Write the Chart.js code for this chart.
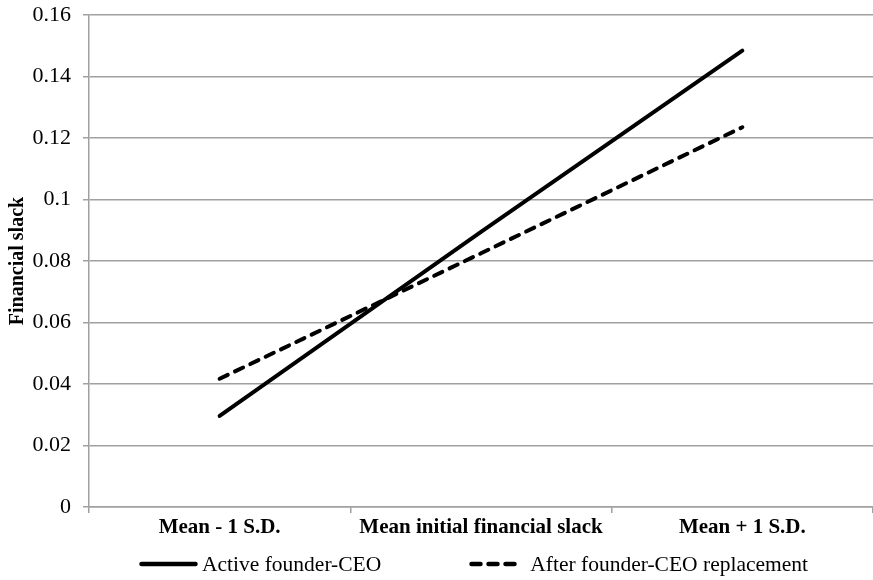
<!DOCTYPE html>
<html lang="en">
<head>
  <meta charset="UTF-8">
  <title>Financial slack</title>
  <script src="https://cdn.jsdelivr.net/npm/chart.js"></script>
  <style>
    body {
      margin: 0;
      padding: 0;
      background: #fff;
    }

    #wrap {
      position: relative;
      width: 873px;
      height: 580px;
    }

    #legend {
      position: absolute;
      left: 139px;
      right: 0;
      top: 551px;
      height: 26px;
      display: flex;
      justify-content: flex-start;
      align-items: center;
      font-family: "Liberation Serif", "Times New Roman", serif;
      font-size: 21.5px;
      color: #000;
    }

    .item {
      display: flex;
      align-items: center;
      white-space: nowrap;
    }

    .item + .item {
      margin-left: 88px;
    }
  </style>
</head>
<body>

  <div id="wrap">
    <canvas id="chart" width="873" height="580"></canvas>
    <div id="legend"></div>
  </div>

  <script>
    // Values
    const categories = ["Mean - 1 S.D.", "Mean initial financial slack", "Mean + 1 S.D."];
    const activeFounderCEO = [0.0296, 0.0895, 0.1484];
    const afterReplacement = [0.0417, 0.0825, 0.1235];
    const seriesNames = ["Active founder-CEO", "After founder-CEO replacement"];

    const gridGray = "#a0a0a0";
    const serif = "'Liberation Serif', 'Times New Roman', serif";

    // Legend drawn as HTML so the two items can sit far apart
    const htmlLegend = {
      id: "htmlLegend",
      afterUpdate(chart) {
        const box = document.getElementById("legend");
        box.innerHTML = "";
        chart.data.datasets.forEach((ds) => {
          const item = document.createElement("div");
          item.className = "item";
          const dashed = !!ds.borderDash;
          const w = dashed ? 51 : 59;
          item.innerHTML =
            '<svg width="' + w + '" height="10" style="margin-right:' + (dashed ? 10 : 4) + 'px">' +
            '<line x1="2.5" y1="5" x2="' + (w - 2.5) + '" y2="5" stroke="' + ds.borderColor +
            '" stroke-width="' + (ds.borderWidth + 0.5) + '" stroke-linecap="round"' +
            (dashed ? ' stroke-dasharray="' + ds.borderDash.join(" ") + '"' : "") + '/></svg>';
          const label = document.createElement("span");
          label.innerText = ds.label;
          item.appendChild(label);
          box.appendChild(item);
        });
      }
    };

    const ctx = document.getElementById("chart").getContext("2d");
    const chart = new Chart(ctx, {
      type: "line",
      data: {
        labels: categories,
        datasets: [{
          label: seriesNames[0],
          data: activeFounderCEO,
          borderColor: "#000",
          borderWidth: 4,
          borderCapStyle: "round",
          pointRadius: 0,
          fill: false
        },
        {
          label: seriesNames[1],
          data: afterReplacement,
          borderColor: "#000",
          borderWidth: 4,
          borderDash: [9, 8],
          borderCapStyle: "round",
          pointRadius: 0,
          fill: false
        }]
      },
      options: {
        responsive: false,
        animation: false,
        layout: {
          padding: { top: 15, right: 0, bottom: 43, left: 0 }
        },
        plugins: {
          legend: { display: false },
          tooltip: { enabled: false }
        },
        scales: {
          x: {
            offset: true,
            grid: {
              offset: true,
              drawOnChartArea: false,
              drawTicks: true,
              tickLength: 6,
              color: gridGray,
              lineWidth: 1.5
            },
            border: { color: gridGray, width: 1.5 },
            ticks: {
              color: "#000",
              padding: 2,
              maxRotation: 0,
              font: { family: serif, size: 21, weight: "bold" }
            },
            afterFit(scale) {
              scale.height = 30;
            }
          },
          y: {
            min: 0,
            max: 0.16,
            grid: {
              color: gridGray,
              lineWidth: 1.5,
              tickLength: 6
            },
            border: { color: gridGray, width: 1.5 },
            ticks: {
              stepSize: 0.02,
              color: "#000",
              padding: 12,
              font: { family: serif, size: 22 },
              callback: (v) => String(Number(v.toFixed(2)))
            },
            title: {
              display: true,
              text: "Financial slack",
              color: "#000",
              padding: { top: 6, bottom: 0 },
              font: { family: serif, size: 20, weight: "bold" }
            },
            afterFit(scale) {
              scale.width = 89;
              // let the layout padding alone set the top edge
              scale.paddingTop = 0;
              scale.paddingBottom = 0;
            }
          }
        }
      },
      plugins: [htmlLegend]
    });
  </script>
</body>
</html>
